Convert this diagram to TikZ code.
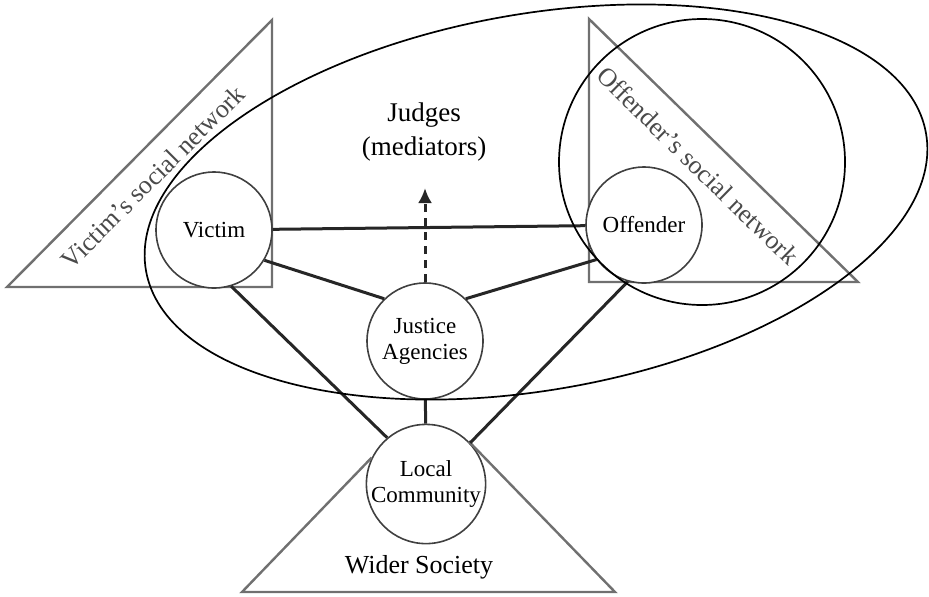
\documentclass[tikz,border=0pt]{standalone}
\usepackage{fontspec}
\setmainfont{Liberation Serif}
\usetikzlibrary{arrows.meta}
\definecolor{NetGray}{HTML}{707070}
\definecolor{RingGray}{HTML}{404040}
\definecolor{TagGray}{HTML}{4A4A4A}

\begin{document}
\begin{tikzpicture}[
      x=0.5pt, y=-0.5pt,
      party/.style={circle, draw=RingGray, fill=white, line width=0.8pt, minimum size=58pt, inner sep=0pt, align=center, font=\fontsize{11.5}{13}\selectfont},
      tie/.style={black!85, line width=1.5pt},
      net/.style={NetGray, line width=1.2pt, line join=miter},
      hoop/.style={black, line width=0.85pt},
      tag/.style={TagGray, font=\fontsize{13}{15}\selectfont}
  ]
    \useasboundingbox (0,0) rectangle (929,596);
    % social networks
    \draw[net] (7,287) -- (272,20) -- (272,287) -- cycle;
    \draw[net] (589,19) -- (858,282) -- (589,282) -- cycle;
    \node[tag, rotate=45] (victimnet) at (153,177) {Victim's social network};
    \node[tag, rotate=-44.4] (offendernet) at (698,166) {Offender's social network};
    \node[font=\fontsize{13}{15}\selectfont] (society) at (419,567) {Wider Society};
    % parties
    \node[party] (victim) at (214,230) {Victim};
    \node[party] (offender) at (644,225) {Offender};
    \node[party] (justice) at (425,341) {Justice\\Agencies};
    \node[party, minimum size=57pt] (community) at (426,484) {Local\\Community};
    \draw[net] (community.154) -- (242,592) -- (615,592) -- (community.45);
    \node[font=\fontsize{13.5}{17}\selectfont, align=center] (judges) at (424,132) {Judges\\(mediators)};
    \coordinate (appeal) at (425,188);
    \draw[tie](victim)--(offender);
    \draw[tie](victim.-31)--(justice.134); \draw[tie](offender.-144)--(justice.46);
    \draw[tie](victim.-73)--(community.130); \draw[tie](offender.-106)--(community.43);
    \draw[tie](justice)--(community);
    \draw[tie, dash pattern=on 4pt off 3pt, -{Latex[length=7.5pt, width=7pt]}](justice)--(appeal);
    % mediation circles
    \draw[hoop, rotate around={10:(536,202)}] (536,202) ellipse [x radius=396, y radius=188];
    \draw[hoop] (702,162) circle [radius=143];
  \end{tikzpicture}
\end{document}
